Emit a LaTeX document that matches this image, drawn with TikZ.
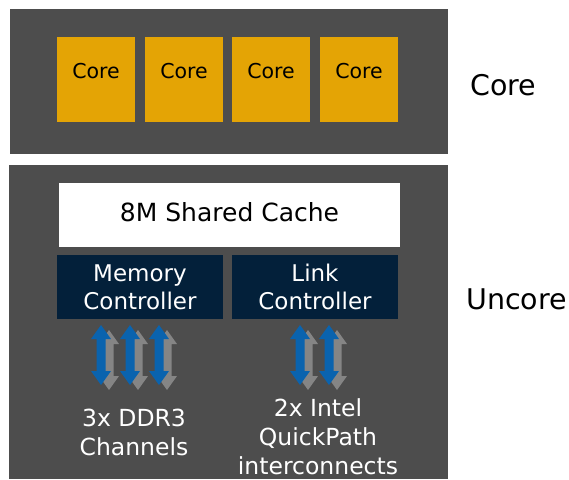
\documentclass[tikz,border=0pt]{standalone}
\usepackage{fontspec}
\setmainfont{DejaVu Sans}
\definecolor{panel}{HTML}{4D4D4D}
\definecolor{coreorange}{HTML}{E4A405}
\definecolor{navy}{HTML}{03203A}
\definecolor{arrowblue}{HTML}{0A63AE}
\definecolor{shadowgrey}{HTML}{858585}
\tikzset{
  corebox/.style={fill=coreorange, draw=none, minimum width=78pt, minimum height=85pt, inner sep=0pt},
  coretext/.style={anchor=base, inner sep=0pt, text=black, font=\fontsize{20.5}{24}\selectfont},
  cachebox/.style={fill=white, draw=none, minimum width=341pt, minimum height=64pt, inner sep=0pt},
  ctrlbox/.style={fill=navy, draw=none, minimum width=166pt, minimum height=64pt, inner sep=0pt},
  ctrltext/.style={anchor=base, inner sep=0pt, text=white, font=\fontsize{23}{28}\selectfont},
  sidelabel/.style={anchor=base west, inner sep=0pt, font=\fontsize{28.5}{34}\selectfont},
  footlabel/.style={anchor=base, text=white, inner sep=0pt, font=\fontsize{23.5}{29}\selectfont},
}
\newcommand{\arrowshape}[3]{% cx, top, bottom
  (#1,#2) -- ++(10,14) -- ++(-5.5,0) -- (#1+4.5,#3-14) -- ++(5.5,0) -- (#1,#3)
  -- ++(-10,-14) -- ++(5.5,0) -- (#1-4.5,#2+14) -- ++(-5.5,0) -- cycle}
\newcommand{\bidiarrow}[1]{%
  \fill[shadowgrey] \arrowshape{#1+8}{330}{390};
  \fill[arrowblue] \arrowshape{#1}{325}{385};
}
\begin{document}
\begin{tikzpicture}[x=1pt,y=-1pt]
\useasboundingbox[fill=white] (0,0) rectangle (569,479);
% panels
\fill[panel] (10,9) rectangle (448,154);
\fill[panel] (9,165) rectangle (448,479);
% cores
\node[corebox] (c1) at (96,79.5) {};
\node[corebox] (c2) at (184,79.5) {};
\node[corebox] (c3) at (271,79.5) {};
\node[corebox] (c4) at (359,79.5) {};
\foreach \n in {1,2,3,4} {
  \node[coretext] (t\n) at (c\n.center |- 0,78.5) {Core};
}
\node[sidelabel] (corelbl) at (470,95) {Core};
% cache and controllers
\node[cachebox] (cache) at (229.5,215) {};
\node[anchor=base, inner sep=0pt, font=\fontsize{25}{30}\selectfont] (cachetext) at (229.5,221) {8M Shared Cache};
\node[ctrlbox] (mem) at (140,287) {};
\node[ctrlbox] (link) at (315,287) {};
\node[ctrltext] (mem1) at (140,281) {Memory};
\node[ctrltext] (mem2) at (140,309) {Controller};
\node[ctrltext] (link1) at (315,281) {Link};
\node[ctrltext] (link2) at (315,309) {Controller};
\node[sidelabel] (uncore) at (466,309) {Uncore};
% arrows
\bidiarrow{101}
\bidiarrow{130}
\bidiarrow{159}
\bidiarrow{300}
\bidiarrow{329}
% footer labels
\node[footlabel] (ddr1) at (134,426) {3x DDR3};
\node[footlabel] (ddr2) at (134,455) {Channels};
\node[footlabel] (qpi1) at (318,416) {2x Intel};
\node[footlabel] (qpi2) at (318,445) {QuickPath};
\node[footlabel] (qpi3) at (318,474) {interconnects};
\end{tikzpicture}
\end{document}
